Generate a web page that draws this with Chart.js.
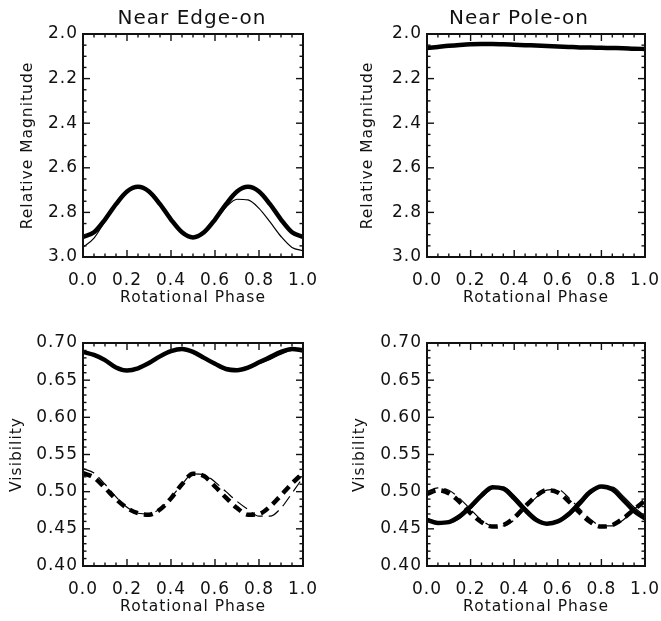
<!DOCTYPE html>
<html><head><meta charset="utf-8">
<script src="https://cdn.jsdelivr.net/npm/chart.js@4.4.0/dist/chart.umd.min.js"></script>
<style>
html,body{margin:0;padding:0;background:#fff;}
#wrap{position:relative;width:661px;height:621px;overflow:hidden;background:#fff;}
canvas{position:absolute;left:0;top:0;}
</style></head><body>
<div id="wrap">
<canvas id="c1" width="700" height="621"></canvas>
<canvas id="c2" width="700" height="621"></canvas>
<canvas id="c3" width="700" height="621"></canvas>
<canvas id="c4" width="700" height="621"></canvas>
</div>
<script>
// ---------- data ----------
const phase = [0.00,0.05,0.10,0.15,0.20,0.25,0.30,0.35,0.40,0.45,0.50,0.55,0.60,0.65,0.70,0.75,0.80,0.85,0.90,0.95,1.00];
const phaseTicks = [0.0,0.2,0.4,0.6,0.8,1.0];
const magTicks = [2.0,2.2,2.4,2.6,2.8,3.0];
const visTicks = [0.40,0.45,0.50,0.55,0.60,0.65,0.70];
const panelTitles = ['Near Edge-on','Near Pole-on'];
const xTitle = 'Rotational Phase';
const magTitle = 'Relative Magnitude';
const visTitle = 'Visibility';

// Near edge-on, relative magnitude
const magEdgeThick = [2.910,2.889,2.832,2.763,2.706,2.685,2.706,2.763,2.832,2.889,2.912,2.889,2.832,2.763,2.706,2.685,2.706,2.763,2.832,2.889,2.910];
const magEdgeThin  = [2.957,2.915,2.840,2.767,2.708,2.687,2.707,2.763,2.832,2.889,2.912,2.890,2.837,2.777,2.741,2.744,2.782,2.843,2.908,2.957,2.972];
// Near pole-on, relative magnitude
const magPoleThick = [2.063,2.058,2.053,2.049,2.046,2.045,2.045,2.046,2.048,2.050,2.052,2.054,2.056,2.058,2.060,2.061,2.062,2.063,2.064,2.066,2.067];
// Near edge-on, visibility
const visEdgeThick     = [0.688,0.684,0.677,0.667,0.663,0.666,0.673,0.682,0.689,0.692,0.688,0.680,0.672,0.665,0.6635,0.667,0.674,0.681,0.688,0.692,0.690];
const visEdgeThin      = [0.688,0.684,0.677,0.667,0.663,0.666,0.673,0.682,0.689,0.692,0.688,0.680,0.672,0.665,0.6630,0.666,0.672,0.678,0.685,0.690,0.690];
const visEdgeDashThick = [0.525,0.519,0.505,0.490,0.478,0.471,0.469,0.476,0.491,0.510,0.524,0.521,0.507,0.492,0.478,0.469,0.470,0.480,0.495,0.511,0.525];
const visEdgeDashThin  = [0.531,0.525,0.510,0.493,0.479,0.471,0.470,0.477,0.492,0.510,0.524,0.523,0.513,0.500,0.487,0.476,0.467,0.467,0.478,0.498,0.519];
// Near pole-on, visibility
const visPoleThick     = [0.462,0.458,0.459,0.467,0.480,0.495,0.506,0.504,0.491,0.475,0.462,0.457,0.460,0.470,0.485,0.500,0.507,0.503,0.489,0.474,0.464];
const visPoleThin      = [0.464,0.459,0.458,0.464,0.477,0.492,0.504,0.506,0.495,0.479,0.465,0.458,0.459,0.467,0.481,0.497,0.506,0.506,0.494,0.479,0.467];
const visPoleDashThick = [0.497,0.502,0.498,0.486,0.471,0.459,0.453,0.455,0.465,0.480,0.494,0.502,0.499,0.487,0.472,0.459,0.453,0.455,0.464,0.476,0.488];
const visPoleDashThin  = [0.500,0.505,0.502,0.491,0.476,0.462,0.454,0.454,0.462,0.477,0.492,0.502,0.503,0.492,0.477,0.463,0.454,0.454,0.462,0.476,0.490];

// ---------- styling ----------
const INK = '#111';
const FAMILY = "'DejaVu Sans', 'Liberation Sans', sans-serif";
const tickFont = {family: FAMILY, size: 17};
const axisFont = {family: FAMILY, size: 15.5};
const titleFont = {family: FAMILY, size: 20, weight: 'normal'};

const spacingPlugin = {
  id: 'spacing',
  beforeLayout(chart){ chart.ctx.letterSpacing = '1px'; },
  beforeDraw(chart){ chart.ctx.letterSpacing = '1px'; }
};

const titlePosPlugin = {
  id: 'titlePos',
  afterLayout(chart, args, opts){
    const t = chart.titleBlock;
    if (!t || opts.cx == null) return;
    const w = 300;
    t.left = opts.cx - w/2; t.right = opts.cx + w/2; t.width = w;
  }
};

const framePlugin = {
  id: 'frameTicks',
  afterDatasetsDraw(chart, args, opts){
    const {ctx, chartArea: a, scales: {x, y}} = chart;
    ctx.save();
    ctx.strokeStyle = INK;
    const seg = (x1,y1,x2,y2) => { ctx.beginPath(); ctx.moveTo(x1,y1); ctx.lineTo(x2,y2); ctx.stroke(); };
    ctx.lineWidth = 1.4;
    for (let i = 0; i <= opts.xCount; i++) {
      const v = x.min + i * (x.max - x.min) / opts.xCount;
      const p = x.getPixelForValue(v);
      const len = (i % opts.xPer === 0) ? 7 : 3.5;
      seg(p, a.bottom, p, a.bottom - len);
      seg(p, a.top, p, a.top + len);
    }
    for (let i = 0; i <= opts.yCount; i++) {
      const v = y.min + i * (y.max - y.min) / opts.yCount;
      const p = y.getPixelForValue(v);
      const len = (i % opts.yPer === 0) ? 7 : 3.5;
      seg(a.left, p, a.left + len, p);
      seg(a.right, p, a.right - len, p);
    }
    ctx.lineWidth = 2;
    ctx.strokeRect(a.left, a.top, a.right - a.left, a.bottom - a.top);
    ctx.restore();
  }
};

function series(values, width, dash){
  return {
    data: phase.map((p, i) => ({x: p, y: values[i]})),
    borderColor: '#000',
    borderWidth: width,
    borderDash: dash || [],
    borderCapStyle: 'butt',
    pointRadius: 0,
    fill: false,
    cubicInterpolationMode: 'monotone'
  };
}

function makeChart(id, p){
  return new Chart(document.getElementById(id), {
    type: 'line',
    data: {datasets: p.datasets},
    plugins: [spacingPlugin, titlePosPlugin, framePlugin],
    options: {
      responsive: false,
      animation: false,
      events: [],
      layout: {padding: p.padding},
      plugins: {
        legend: {display: false},
        tooltip: {enabled: false},
        title: {
          display: !!p.title, text: p.title || '', font: titleFont, color: INK,
          fullSize: false, padding: {top: 0, bottom: 3}
        },
        titlePos: {cx: p.titleCx},
        frameTicks: p.ticksCfg
      },
      scales: {
        x: {
          type: 'linear', min: 0, max: 1,
          afterBuildTicks: s => { s.ticks = phaseTicks.map(v => ({value: v})); },
          afterFit: s => { s.height = 50; },
          ticks: {callback: v => Number(v).toFixed(1), font: tickFont, color: INK, padding: 13, maxRotation: 0, autoSkip: false},
          grid: {display: false, drawTicks: false},
          border: {display: false},
          title: {display: true, text: xTitle, font: axisFont, color: INK, padding: 0}
        },
        y: {
          type: 'linear', min: p.ymin, max: p.ymax, reverse: !!p.reverse,
          afterBuildTicks: s => { s.ticks = p.yTicks.map(v => ({value: v})); },
          afterFit: s => { s.width = p.yWidth; },
          ticks: {callback: v => Number(v).toFixed(p.dec), font: tickFont, color: INK, padding: 5, autoSkip: false},
          grid: {display: false, drawTicks: false},
          border: {display: false},
          title: {display: true, text: p.yTitle, font: axisFont, color: INK, padding: 0}
        }
      }
    }
  });
}

const topTicks = {xCount: 20, xPer: 4, yCount: 20, yPer: 4};
const botTicks = {xCount: 20, xPer: 4, yCount: 30, yPer: 5};

makeChart('c1', {
  title: panelTitles[0], titleCx: 192,
  padding: {left: 19, right: 397, top: 7, bottom: 314}, yWidth: 64,
  ymin: 2.0, ymax: 3.0, reverse: true, yTicks: magTicks, dec: 1, yTitle: magTitle,
  ticksCfg: topTicks,
  datasets: [series(magEdgeThin, 1.2), series(magEdgeThick, 4.5)]
});
makeChart('c2', {
  title: panelTitles[1], titleCx: 519,
  padding: {left: 359, right: 55, top: 7, bottom: 314}, yWidth: 68,
  ymin: 2.0, ymax: 3.0, reverse: true, yTicks: magTicks, dec: 1, yTitle: magTitle,
  ticksCfg: topTicks,
  datasets: [series(magPoleThick, 4.5)]
});
makeChart('c3', {
  title: null,
  padding: {left: 8, right: 397, top: 343, bottom: 5}, yWidth: 75,
  ymin: 0.40, ymax: 0.70, yTicks: visTicks, dec: 2, yTitle: visTitle,
  ticksCfg: botTicks,
  datasets: [series(visEdgeThin, 1.2), series(visEdgeThick, 4.5),
             series(visEdgeDashThin, 1.2, [12, 6]), series(visEdgeDashThick, 4.5, [9, 6])]
});
makeChart('c4', {
  title: null,
  padding: {left: 351, right: 55, top: 343, bottom: 5}, yWidth: 76,
  ymin: 0.40, ymax: 0.70, yTicks: visTicks, dec: 2, yTitle: visTitle,
  ticksCfg: botTicks,
  datasets: [series(visPoleThin, 1.2), series(visPoleThick, 4.5),
             series(visPoleDashThin, 1.2, [12, 6]), series(visPoleDashThick, 4.5, [9, 6])]
});
</script>
</body></html>
